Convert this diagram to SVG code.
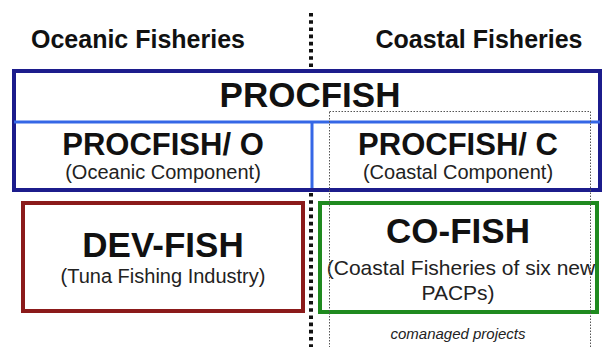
<svg xmlns="http://www.w3.org/2000/svg" width="604" height="347" viewBox="0 0 604 347">
<style>
.b{font-family:"Liberation Sans",Arial,sans-serif;font-weight:bold;fill:#111;text-anchor:middle}
.r{font-family:"Liberation Sans",Arial,sans-serif;fill:#222;text-anchor:middle}
</style>
<rect width="604" height="347" fill="#fff"/>
<g id="divider">
<line x1="311" y1="13" x2="311" y2="347" stroke="#111" stroke-width="4" stroke-dasharray="3.6 3.6"/>
</g>
<g id="headers">
<text class="b" x="138" y="48" font-size="25">Oceanic Fisheries</text>
<text class="b" x="479" y="48" font-size="25">Coastal Fisheries</text>
</g>
<g id="procfish">
<rect x="14" y="71" width="586" height="119" fill="#fff" stroke="#1c1c8c" stroke-width="4"/>
<line x1="14" y1="122" x2="600" y2="122" stroke="#3567e6" stroke-width="3"/>
<line x1="312" y1="122" x2="312" y2="188" stroke="#3567e6" stroke-width="3"/>
<text class="b" x="310" y="107" font-size="35">PROCFISH</text>
</g>
<g id="procfish-o">
<text class="b" x="163" y="155" font-size="31">PROCFISH/ O</text>
<text class="r" x="163" y="179" font-size="20">(Oceanic Component)</text>
</g>
<g id="procfish-c">
<text class="b" x="458" y="155" font-size="31">PROCFISH/ C</text>
<text class="r" x="458" y="179" font-size="20">(Coastal Component)</text>
</g>
<g id="dev-fish">
<rect x="23" y="203" width="280" height="108" fill="#fff" stroke="#8b1a1a" stroke-width="4"/>
<text class="b" x="163" y="257" font-size="35">DEV-FISH</text>
<text class="r" x="163" y="283" font-size="20">(Tuna Fishing Industry)</text>
</g>
<g id="co-fish">
<rect x="320" y="203" width="277" height="109" fill="none" stroke="#1f8a1f" stroke-width="4"/>
<text class="b" x="458" y="243" font-size="35">CO-FISH</text>
<text class="r" x="461" y="275" font-size="21">(Coastal Fisheries of six new</text>
<text class="r" x="458" y="300" font-size="21">PACPs)</text>
</g>
<g id="comanaged">
<rect x="329.5" y="111.5" width="261" height="250" fill="none" stroke="#555" stroke-width="1" stroke-dasharray="1.5 1.5"/>
<text class="r" x="458" y="339" font-size="15" font-style="italic">comanaged projects</text>
</g>
</svg>
